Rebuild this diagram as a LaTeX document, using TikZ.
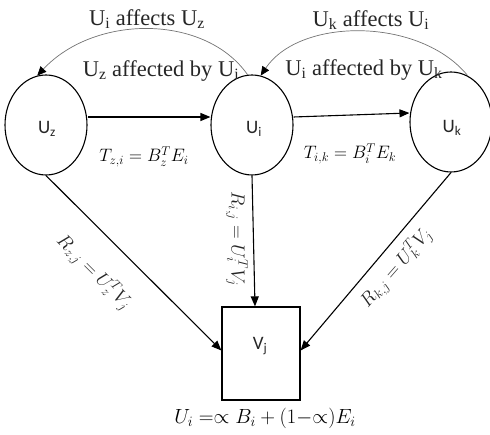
\RequirePackage{fix-cm}
\documentclass[tikz,border=0pt]{standalone}
\usepackage{fontspec}
\setmainfont{Liberation Serif}
\newfontfamily\nodefont{Carlito}
\usetikzlibrary{arrows.meta,shapes.geometric}
\begin{document}
\begin{tikzpicture}[x=1pt,y=-1pt,
  ell/.style={ellipse,draw,line width=1.1pt,minimum width=82pt,minimum height=100pt,inner sep=0pt,font=\nodefont\fontsize{18}{20}\selectfont},
  boxnode/.style={draw,line width=1.2pt,minimum width=78pt,minimum height=93pt,inner sep=0pt,font=\nodefont\fontsize{18}{20}\selectfont},
  nlab/.style={font=\nodefont\fontsize{19}{20}\selectfont,inner sep=0pt,text=black!85},
  arr/.style={line width=1.1pt,-{Triangle[length=10pt,width=8pt]}},
  curv/.style={line width=0.7pt,draw=black!55,-{Triangle[length=9pt,width=8pt,color=black]}},
  clab/.style={font=\fontsize{22.5}{24}\selectfont,text=black!85,inner sep=0pt},
  mlab/.style={font=\fontsize{18}{20}\selectfont,text=black,inner sep=0pt},
  rlab/.style={font=\fontsize{19}{22}\selectfont,text=black!85,inner sep=0pt}]
\useasboundingbox (0,0) rectangle (490,435);
\node[ell] (uz) at (46,125) {};
\node[ell] (ui) at (252,125) {};
\node[ell] (uk) at (451,122) {};
\node[boxnode] (vj) at (261,353.5) {};
\node[nlab] (tz) at (47,129) {U\textsubscript{z}};
\node[nlab] (ti) at (254,129) {U\textsubscript{i}};
\node[nlab] (tk) at (452,128) {U\textsubscript{k}};
\node[nlab] (tv) at (260,346) {V\textsubscript{j}};
% straight arrows
\draw[arr] ([yshift=8pt]uz.east) -- ([yshift=8pt]ui.west);
\draw[arr] ([yshift=8pt]ui.east) -- ([yshift=9pt]uk.west);
\draw[arr] (uz.south) -- ([yshift=3pt]vj.west);
\draw[arr] (ui.south) -- ([xshift=-6pt]vj.north);
\draw[arr] (uk.south) -- ([yshift=3pt]vj.east);
% curved arrows
\draw[curv] (ui.95) .. controls (205,14) and (95,14) .. (uz.100);
\draw[curv] (uk.70) .. controls (420,17) and (300,17) .. (ui.80);
% labels
\node[clab] (l1) at (147,19) {U\textsubscript{i} affects U\textsubscript{z}};
\node[clab] (l2) at (161,71) {U\textsubscript{z} affected by U\textsubscript{i}};
\node[clab] (l3) at (371,20) {U\textsubscript{k} affects U\textsubscript{i}};
\node[clab] (l4) at (364,70) {U\textsubscript{i} affected by U\textsubscript{k}};
\node[mlab] (m1) at (144,157) {$T_{z,i} = B_z^T E_i$};
\node[mlab] (m2) at (350,154) {$T_{i,k} = B_i^T E_k$};
\node[rlab,rotate=-90] (r2) at (237,239) {$R_{i,j} = U_i^T V_j$};
\node[rlab,rotate=-45] (r1) at (94,272) {$R_{z,j} = U_z^T V_j$};
\node[rlab,rotate=49] (r3) at (396,268) {$R_{k,j} = U_k^T V_j$};
\node[font=\fontsize{20.5}{24}\selectfont,text=black,inner sep=0pt] (f) at (265,418) {$U_i = \propto B_i + (1{-}\mathord{\propto}) E_i$};
\end{tikzpicture}
\end{document}
